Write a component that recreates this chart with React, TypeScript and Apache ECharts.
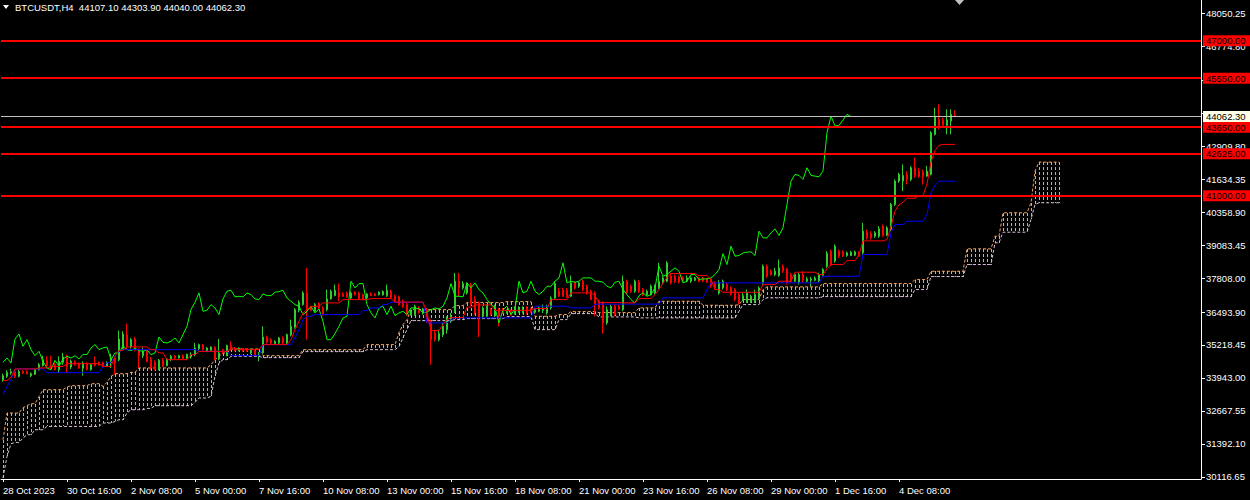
import React, { useEffect, useRef } from "react";
import * as echarts from "echarts";

const symbolTitle = "BTCUSDT,H4  44107.10 44303.90 44040.00 44062.30";

const xTickLabels = [
  "28 Oct 2023", "30 Oct 16:00", "2 Nov 08:00", "5 Nov 00:00", "7 Nov 16:00",
  "10 Nov 08:00", "13 Nov 00:00", "15 Nov 16:00", "18 Nov 08:00", "21 Nov 00:00",
  "23 Nov 16:00", "26 Nov 08:00", "29 Nov 00:00", "1 Dec 16:00", "4 Dec 08:00",
];
const barsPerLabel = 16;
const slotCount = 300;

const yTicks = [
  48050.25, 46774.8, 45479.9, 44185.35, 42909.8, 41634.35, 40358.9, 39083.45,
  37808.0, 36493.9, 35218.45, 33943.0, 32667.55, 31392.1, 30116.65,
];

const levels = [47000, 45550, 43650, 42625, 41000];
const bidPrice = 44062.3;

const open = [
  33850, 34004, 34134, 34185, 34004, 34198, 34185, 34030, 34082, 34263,
  34418, 34624, 34431, 34457, 34263, 34547, 34741, 34366, 34573, 34495,
  34314, 34508, 34263, 34521, 34547, 34521, 34392, 34521, 34702, 34650,
  35077, 35606, 35141, 35451, 35038, 34805, 34973, 34650, 34547, 34289,
  34650, 34418, 34650, 34780, 34715, 34805, 34702, 34754, 34831, 35077,
  35219, 34999, 35012, 35128, 34676, 35038, 34831, 35206, 35090, 34999,
  35077, 35064, 34909, 34999, 34805, 34909, 35529, 35426, 35271, 35296,
  35490, 35296, 35606, 35904, 36563, 36782, 37234, 36691, 36523, 36821,
  36653, 36588, 37001, 37131, 37234, 37195, 37234, 37040, 37260, 37234,
  37169, 37040, 37208, 37195, 37169, 37156, 37131, 37299, 37105, 37079,
  36911, 36782, 36394, 36394, 36653, 36459, 36588, 36136, 35658, 35425,
  35619, 35813, 36136, 36523, 37686, 37428, 37234, 37557, 36976, 36846,
  36330, 36330, 36588, 36355, 36588, 36588, 36459, 36523, 36433, 36485,
  36485, 36653, 36614, 36485, 36523, 36562, 36459, 36653, 37040, 37299,
  37363, 37337, 37105, 37647, 37492, 37686, 37492, 37299, 37234, 36911,
  36846, 36071, 36394, 36717, 36717, 36589, 37687, 37493, 37299, 37648,
  37364, 37170, 37170, 37235, 37429, 37622, 37687, 37881, 37881, 37855,
  37816, 37687, 37687, 37726, 37816, 37790, 37777, 37777, 37622, 37235,
  37429, 37558, 37429, 37364, 37170, 36976, 36912, 36912, 36912, 37041,
  37622, 38268, 38075, 37945, 37907, 38268, 38165, 37945, 37687, 37648,
  37945, 37687, 37726, 37726, 37687, 37907, 38268, 38850, 38462, 38850,
  38824, 38682, 38682, 38695, 38811, 38785, 39586, 39534, 39431, 39431,
  39819, 39470, 39690, 40659, 41563, 41563, 41821, 41628, 42080, 41950,
  41912, 41757, 41821, 43372, 43953, 43927, 43721, 43889, 44107.1,
];
const high = [
  34108, 34237, 34302, 34289, 34263, 34237, 34237, 34159, 34314, 34521,
  34805, 34780, 34805, 34547, 34780, 34909, 34844, 34650, 34624, 34547,
  34586, 34547, 34495, 34780, 34586, 34573, 34586, 34883, 34754, 35774,
  35749, 36046, 35490, 35529, 35090, 35128, 35038, 34754, 34624, 34676,
  34715, 34715, 34831, 34831, 34844, 34857, 34883, 34935, 35296, 35271,
  35258, 35141, 35167, 35167, 35451, 35077, 35232, 35361, 35128, 35128,
  35103, 35103, 35077, 35038, 34948, 35942, 35581, 35490, 35400, 35529,
  35555, 35658, 36201, 36653, 36950, 37299, 38203, 36743, 36846, 36872,
  36717, 37363, 37363, 37557, 37596, 37260, 37286, 37286, 37299, 37286,
  37208, 37234, 37260, 37234, 37299, 37337, 37557, 37363, 37169, 37131,
  36976, 36846, 36588, 36782, 36717, 36653, 36653, 36200, 35813, 35813,
  36071, 36330, 36459, 38009, 38009, 37686, 37647, 37622, 37105, 36911,
  36717, 36782, 36653, 36782, 36653, 36653, 36588, 36588, 36717, 36717,
  36717, 36717, 36653, 36653, 36717, 36782, 36782, 37105, 37686, 37428,
  37428, 37428, 37906, 37686, 37686, 37751, 37557, 37363, 37299, 36976,
  36911, 36717, 36782, 36782, 36782, 37907, 37752, 37558, 37752, 37726,
  37429, 37364, 37558, 37558, 38398, 37881, 38462, 38010, 37945, 37907,
  37881, 37907, 37881, 37855, 37855, 37855, 37816, 37816, 37687, 37726,
  37752, 37622, 37493, 37429, 37235, 37235, 37364, 37170, 37364, 37493,
  38333, 38333, 38139, 38204, 38527, 38333, 38204, 38010, 38010, 38010,
  38075, 37855, 37855, 37881, 38010, 38204, 38850, 38914, 39108, 38914,
  38889, 38837, 38863, 38876, 38850, 39948, 39690, 39625, 39625, 39819,
  39883, 39819, 40723, 41628, 41886, 42209, 41950, 42144, 42467, 42080,
  42015, 42144, 43501, 44405, 44535, 44018, 44341, 44341, 44303.9,
];
const low = [
  33798, 33940, 34069, 33940, 33966, 34108, 34082, 33979, 34056, 34224,
  34392, 34327, 34263, 34237, 34134, 34457, 34134, 34289, 34418, 34289,
  34030, 34237, 34224, 34392, 34418, 34366, 34366, 34327, 34069, 34586,
  35038, 35038, 35077, 34973, 34327, 34715, 34547, 34263, 34237, 34237,
  34366, 34392, 34586, 34676, 34689, 34650, 34676, 34689, 34780, 35012,
  35012, 34948, 34948, 34624, 34624, 34870, 34780, 34999, 34973, 34973,
  34960, 34948, 34857, 34805, 34586, 34883, 35271, 35258, 35232, 35258,
  35258, 35258, 35555, 35852, 36485, 36743, 35425, 36523, 36485, 36614,
  36355, 36523, 36976, 37105, 36911, 37079, 37040, 37001, 37131, 36976,
  36950, 37001, 37105, 37105, 37131, 37131, 37079, 37001, 36872, 36743,
  36653, 36355, 36355, 36355, 36433, 36394, 36071, 34456, 35361, 35361,
  35529, 35658, 36071, 36459, 37105, 37363, 37169, 36743, 36394, 35529,
  36265, 36304, 36355, 36304, 35942, 36433, 36433, 36355, 36394, 36459,
  36433, 36394, 36459, 36433, 36485, 36459, 36394, 36588, 37001, 37079,
  37079, 37040, 37079, 37363, 37428, 37299, 37169, 36950, 36330, 36588,
  35658, 36007, 36330, 36330, 36562, 36524, 37170, 37235, 37235, 37235,
  37106, 37106, 37131, 37170, 37390, 37558, 37648, 37558, 37622, 37597,
  37648, 37648, 37622, 37687, 37648, 37648, 37622, 37429, 37364, 37170,
  37364, 37299, 37131, 36912, 36783, 36912, 36847, 36847, 36847, 36976,
  37558, 37816, 37907, 37881, 37855, 38010, 37558, 37622, 37648, 37558,
  37622, 37648, 37493, 37687, 37648, 37881, 38204, 38268, 38398, 38591,
  38630, 38630, 38656, 38656, 38630, 38721, 39302, 39302, 39367, 39367,
  39405, 39431, 39625, 40594, 41498, 41176, 41434, 41563, 41692, 41692,
  41434, 41731, 41783, 43333, 43566, 43669, 43372, 43372, 44040.0,
];
const close = [
  34030, 34159, 34185, 34004, 34198, 34134, 34108, 34108, 34263, 34457,
  34650, 34418, 34327, 34263, 34586, 34754, 34366, 34586, 34482, 34327,
  34521, 34263, 34457, 34444, 34457, 34392, 34547, 34715, 34521, 35451,
  35645, 35167, 35426, 35038, 34805, 34973, 34586, 34327, 34263, 34624,
  34392, 34676, 34780, 34715, 34805, 34676, 34857, 34844, 35103, 35232,
  35038, 35103, 35141, 34650, 34909, 34909, 35193, 35038, 34999, 35090,
  34999, 34973, 35038, 34844, 34909, 35529, 35322, 35296, 35361, 35490,
  35296, 35619, 35942, 36588, 36873, 37234, 36523, 36562, 36782, 36653,
  36394, 37001, 37299, 37337, 37079, 37105, 37079, 37234, 37169, 37001,
  36976, 37195, 37131, 37131, 37260, 37286, 37337, 37040, 36911, 36782,
  36717, 36394, 36523, 36717, 36459, 36614, 36136, 35425, 35425, 35658,
  35942, 36265, 36330, 37686, 37428, 37596, 37596, 36782, 36459, 36265,
  36653, 36717, 36394, 36717, 36355, 36459, 36523, 36394, 36653, 36653,
  36614, 36459, 36485, 36588, 36653, 36614, 36717, 37040, 37596, 37105,
  37105, 37079, 37622, 37428, 37622, 37363, 37234, 36976, 36782, 36653,
  36071, 36588, 36717, 36394, 36614, 37687, 37235, 37299, 37687, 37299,
  37170, 37299, 37493, 37493, 37687, 37816, 38398, 37622, 37687, 37648,
  37687, 37816, 37816, 37816, 37687, 37687, 37648, 37493, 37429, 37648,
  37687, 37364, 37170, 36976, 36847, 37131, 37235, 37106, 37170, 37429,
  38268, 37881, 37945, 38075, 38204, 38075, 37622, 37687, 37945, 37945,
  37752, 37777, 37777, 37816, 37945, 38139, 38759, 38333, 39044, 38656,
  38682, 38785, 38811, 38824, 38682, 39625, 39367, 39367, 39560, 39715,
  39457, 39754, 40659, 41563, 41821, 41783, 41628, 42080, 41783, 41757,
  41731, 41950, 43436, 44082, 43695, 43721, 43927, 44147, 44062.3,
];

// Ichimoku lines as [value, number of bars] runs
const tenkanRuns = [
  [33848, 2], [33964, 1], [34290, 6], [34329, 3], [34391, 4], [34495, 9], [34391, 3],
  [34778, 1], [35011, 2], [35143, 6], [35038, 2], [34910, 2], [34650, 6], [34844, 2],
  [34972, 8], [35104, 2], [35038, 6], [35232, 7], [35426, 1], [35813, 1], [36135, 1],
  [36460, 1], [36588, 1], [36716, 3], [36848, 5], [36976, 7], [37015, 6], [36880, 8],
  [36472, 1], [35774, 3], [36007, 1], [36201, 1], [36278, 4], [36685, 2], [36769, 5],
  [36560, 10], [36627, 4], [36976, 5], [37236, 6], [37131, 1], [36860, 6], [36848, 4],
  [37015, 4], [37170, 1], [37364, 1], [37623, 1], [37829, 1], [37984, 7], [37906, 3],
  [37751, 1], [37364, 2], [37259, 10], [37557, 4], [37687, 4], [38034, 6], [37945, 2],
  [38171, 1], [38333, 4], [38487, 3], [38700, 1], [39250, 6], [39300, 1], [39800, 1],
  [40400, 1], [40650, 1], [40740, 1], [40900, 3], [41000, 2], [41450, 1], [42300, 1],
  [42750, 1], [42950, 1], [42984, 4],
];
const kijunRuns = [
  [33294, 1], [33604, 1], [33875, 1], [34290, 8], [34147, 14], [34380, 1], [34534, 2],
  [34806, 1], [34961, 1], [35038, 19], [34972, 8], [34806, 8], [35232, 8], [35503, 1],
  [35813, 1], [36201, 1], [36329, 2], [36395, 12], [36550, 2], [36654, 3], [36782, 2],
  [36872, 9], [36073, 6], [36201, 1], [36267, 20], [36720, 9], [36654, 6], [36800, 17],
  [37042, 11], [37364, 1], [37623, 28], [37879, 10], [38720, 7], [39561, 1], [39883, 3],
  [40011, 5], [40271, 1], [41123, 1], [41395, 1], [41561, 5],
];
const spanARuns = [
  [31549, 1], [32584, 4], [32790, 1], [32868, 1], [32945, 2], [33216, 1], [33488, 6],
  [33592, 1], [33643, 5], [33720, 3], [33615, 1], [33771, 1], [34003, 1], [34108, 4],
  [34158, 2], [34329, 18], [34457, 1], [34650, 1], [34778, 1], [34910, 2], [35065, 8],
  [34806, 10], [35038, 16], [35232, 8], [35697, 1], [36007, 1], [36201, 1], [36588, 11],
  [36743, 3], [36860, 10], [36899, 7], [36329, 6], [36395, 3], [36511, 7], [36472, 10],
  [36654, 5], [36910, 11], [36755, 9], [36782, 1], [36976, 5], [37364, 1], [37468, 14],
  [37596, 23], [37751, 4], [38073, 9], [38941, 7], [39429, 2], [40337, 7], [40724, 1],
  [41949, 1], [42298, 6],
];
const spanBRuns = [
  [30077, 1], [30902, 1], [31395, 1], [31445, 2], [31615, 1], [31743, 2], [31937, 3],
  [32065, 14], [32197, 3], [32259, 1], [32325, 2], [32584, 1], [32712, 4], [32763, 2],
  [32868, 10], [32995, 1], [33166, 3], [33228, 1], [34003, 1], [34522, 1], [34650, 2],
  [34778, 8], [34728, 10], [34961, 16], [35038, 8], [35154, 1], [35503, 1], [35813, 1],
  [36162, 11], [36201, 3], [36240, 10], [36317, 7], [35813, 6], [36201, 3], [36433, 7],
  [36305, 10], [36267, 25], [36523, 1], [36782, 5], [36976, 1], [37042, 14], [37092, 23],
  [37364, 4], [37867, 9], [38333, 7], [39174, 2], [39585, 7], [40077, 1], [40658, 1],
  [40724, 6],
];
const chikouShift = 26;

const expandRuns = (runs: number[][]) => {
  const out: number[] = [];
  runs.forEach(([v, n]) => {
    for (let k = 0; k < n; k++) out.push(v);
  });
  return out;
};

const FONT = "Liberation Sans";
const SANDY = "#F4A460";
const THISTLE = "#D8BFD8";
const HATCH = "#F4A460";

export default function App() {
  const ref = useRef<HTMLDivElement>(null);

  useEffect(() => {
    if (!ref.current) return;
    const chart = echarts.init(ref.current, null, { renderer: "svg" });

    const categories = Array.from({ length: slotCount }, (_, i) => String(i));
    const candleData = open.map((o, i) => [o, close[i], low[i], high[i]]);
    const tenkan = expandRuns(tenkanRuns);
    const kijun = expandRuns(kijunRuns);
    const spanA = expandRuns(spanARuns);
    const spanB = expandRuns(spanBRuns);
    const chikou = close.map((_, i) => (i + chikouShift < close.length ? close[i + chikouShift] : null));
    const hatch = spanA.map((a, i) => [i, a, spanB[i]]);

    const showTick = (idx: number) =>
      idx % barsPerLabel === 0 && idx / barsPerLabel < xTickLabels.length;

    const priceLabel = (bg: string) => ({
      show: true,
      position: "end",
      distance: 2,
      formatter: (p: any) => Number(p.value).toFixed(2),
      backgroundColor: bg,
      color: "#000000",
      fontFamily: FONT,
      fontSize: 9.5,
      padding: [1, 5, 0, 3],
      lineHeight: 10,
    });

    const levelLines = levels.map((v) => ({
      yAxis: v,
      lineStyle: { color: "#FF0000", width: 2, type: "solid" },
      label: priceLabel("#FF0000"),
    }));
    const bidLine = {
      yAxis: bidPrice,
      lineStyle: { color: "#C0C0C0", width: 1, type: "solid" },
      label: priceLabel("#FFFFE8"),
    };

    chart.setOption({
      animation: false,
      backgroundColor: "#000000",
      textStyle: { fontFamily: FONT },
      grid: { left: -2, right: 49, top: 0, bottom: 21, containLabel: false },
      xAxis: {
        type: "category",
        data: categories,
        boundaryGap: true,
        axisLine: { show: true, lineStyle: { color: "#FFFFFF", width: 1 } },
        axisTick: {
          show: true,
          alignWithLabel: true,
          length: 3,
          interval: (idx: number) => showTick(idx),
          lineStyle: { color: "#FFFFFF" },
        },
        axisLabel: {
          show: true,
          interval: (idx: number) => showTick(idx),
          formatter: (_v: string, idx: number) => xTickLabels[idx / barsPerLabel] || "",
          align: "left",
          color: "#FFFFFF",
          fontFamily: FONT,
          fontSize: 9.5,
          margin: 6,
        },
        splitLine: { show: false },
      },
      yAxis: {
        type: "value",
        position: "right",
        min: 30030,
        max: 48575,
        scale: true,
        axisLine: { show: true, lineStyle: { color: "#FFFFFF", width: 1 } },
        axisTick: {
          show: true,
          length: 4,
          customValues: yTicks,
          lineStyle: { color: "#FFFFFF" },
        },
        axisLabel: {
          show: true,
          customValues: yTicks,
          formatter: (v: number) => v.toFixed(2),
          color: "#FFFFFF",
          fontFamily: FONT,
          fontSize: 9.5,
          margin: 5,
        },
        splitLine: { show: false },
      },
      series: [
        {
          type: "custom",
          name: "cloud",
          silent: true,
          clip: true,
          z: 1,
          itemStyle: { color: HATCH, opacity: 1 },
          encode: { x: 0, y: [1, 2] },
          data: hatch,
          renderItem: (params: any, api: any) => {
            const idx = params.dataIndex;
            const a = spanA[idx];
            const b = spanB[idx];
            const p1 = api.coord([idx, a]);
            const p2 = api.coord([idx, b]);
            const x = Math.round(p1[0]);
            const top = Math.round(Math.min(p1[1], p2[1]));
            const bottom = Math.round(Math.max(p1[1], p2[1]));
            const children: any[] = [];
            for (let y = top; y < bottom; y += 5) {
              children.push({
                type: "rect",
                shape: { x, y, width: 1, height: Math.min(3, bottom - y) },
                style: { fill: HATCH, opacity: 1 },
              });
            }
            return { type: "group", children };
          },
        },
        {
          type: "line",
          name: "spanA",
          data: spanA,
          showSymbol: false,
          symbol: "none",
          silent: true,
          z: 2,
          lineStyle: { color: SANDY, width: 1, type: [3, 2] },
        },
        {
          type: "line",
          name: "spanB",
          data: spanB,
          showSymbol: false,
          symbol: "none",
          silent: true,
          z: 2,
          lineStyle: { color: THISTLE, width: 1, type: [3, 2] },
        },
        {
          type: "candlestick",
          name: "BTCUSDT",
          data: candleData,
          barWidth: 2,
          silent: true,
          z: 3,
          itemStyle: {
            color: "#32CD32",
            color0: "#FF0000",
            borderColor: "#32CD32",
            borderColor0: "#FF0000",
            borderWidth: 1,
          },
          markLine: {
            silent: true,
            symbol: ["none", "none"],
            animation: false,
            z: 10,
            data: [...levelLines, bidLine],
          },
        },
        {
          type: "line",
          name: "chikou",
          data: chikou,
          showSymbol: false,
          symbol: "none",
          silent: true,
          z: 4,
          lineStyle: { color: "#00FF00", width: 1 },
        },
        {
          type: "line",
          name: "kijun",
          data: kijun,
          showSymbol: false,
          symbol: "none",
          silent: true,
          z: 4,
          lineStyle: { color: "#0000FF", width: 1 },
        },
        {
          type: "line",
          name: "tenkan",
          data: tenkan,
          showSymbol: false,
          symbol: "none",
          silent: true,
          z: 4,
          lineStyle: { color: "#FF0000", width: 1 },
        },
      ],
      graphic: [
        {
          type: "polygon",
          shape: { points: [[3, 5], [9, 5], [6, 9]] },
          style: { fill: "#FFFFFF" },
          silent: true,
        },
        {
          type: "text",
          left: 15,
          top: 2,
          style: {
            text: symbolTitle,
            fill: "#FFFFFF",
            font: `9.5px "${FONT}"`,
          },
          silent: true,
        },
        {
          type: "polygon",
          shape: { points: [[955, 0], [964, 0], [959.5, 5]] },
          style: { fill: "#C0C0C0" },
          silent: true,
        },
      ],
    });

    return () => chart.dispose();
  }, []);

  return (
    <div
      ref={ref}
      style={{ position: "fixed", left: 0, top: 0, width: 1250, height: 500, background: "#000000" }}
    />
  );
}
